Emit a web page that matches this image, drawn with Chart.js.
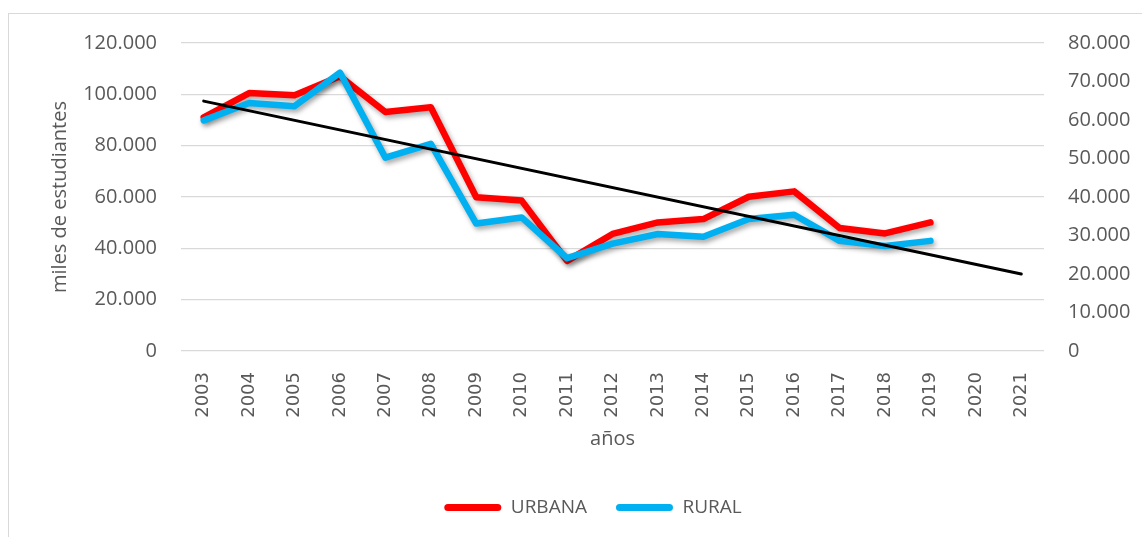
<!DOCTYPE html>
<html lang="es">
<head>
<meta charset="utf-8">
<title>Estudiantes urbana / rural</title>
<script src="https://cdn.jsdelivr.net/npm/chart.js@4/dist/chart.umd.min.js"></script>
<style>
    html, body { margin: 0; padding: 0; background: #ffffff; overflow: hidden; }
    .marco {
        position: absolute; left: 8px; top: 13px;
        width: 1200px; height: 600px;
        border: 1px solid #d9d9d9;
    }
    .zona { position: absolute; left: 0; top: 0; width: 1142px; height: 537px; }
</style>
</head>
<body>
<div class="marco"></div>
<div class="zona"><canvas id="graficoEstudiantes"></canvas></div>
<script>
// ==========================================
//  DATOS
// ==========================================
const anios = ['2003', '2004', '2005', '2006', '2007', '2008', '2009', '2010', '2011', '2012',
               '2013', '2014', '2015', '2016', '2017', '2018', '2019', '2020', '2021'];

// eje izquierdo
const urbana = [91000, 100500, 99600, 107000, 93100, 95000, 59900, 58600, 35100, 45600,
                50100, 51400, 60100, 62200, 47900, 45800, 50100, null, null];

// eje derecho
const rural = [59900, 64400, 63600, 72300, 50200, 53800, 33100, 34700, 24100, 27900,
               30400, 29700, 34300, 35400, 28600, 27300, 28600, null, null];

// tendencia (eje derecho), solo extremos
const tendencia = [64900, null, null, null, null, null, null, null, null, null,
                   null, null, null, null, null, null, null, null, 20000];

const ticksIzq = { min: 0, max: 120000, paso: 20000 };
const ticksDer = { min: 0, max: 80000, paso: 10000 };

const grisTexto = '#595959';
const fuente = "'Open Sans', 'Noto Sans', sans-serif";

function formatoMiles(v) {
    return String(v).replace(/\B(?=(\d{3})+(?!\d))/g, '.');
}

// sombra estilo Excel bajo las dos curvas
const pluginSombra = {
    id: 'sombra',
    beforeDatasetDraw(chart, args) {
        const ds = chart.data.datasets[args.index];
        if (!ds.sombra) return;
        const ctx = chart.ctx;
        ctx.save();
        ctx.shadowColor = 'rgba(0, 0, 0, 0.35)';
        ctx.shadowBlur = 5;
        ctx.shadowOffsetX = 2;
        ctx.shadowOffsetY = 3;
    },
    afterDatasetDraw(chart, args) {
        const ds = chart.data.datasets[args.index];
        if (ds.sombra) chart.ctx.restore();
    }
};

const ctx = document.getElementById('graficoEstudiantes').getContext('2d');

new Chart(ctx, {
    type: 'line',
    data: {
        labels: anios,
        datasets: [
            {
                label: 'URBANA',
                data: urbana,
                yAxisID: 'y',
                borderColor: '#ff0000',
                backgroundColor: '#ff0000',
                borderWidth: 6.5,
                borderJoinStyle: 'round',
                borderCapStyle: 'round',
                pointRadius: 0,
                tension: 0,
                order: 2,
                sombra: true
            },
            {
                label: 'RURAL',
                data: rural,
                yAxisID: 'y1',
                borderColor: '#00b0f0',
                backgroundColor: '#00b0f0',
                borderWidth: 6.5,
                borderJoinStyle: 'round',
                borderCapStyle: 'round',
                pointRadius: 0,
                tension: 0,
                order: 1,
                sombra: true
            },
            {
                label: 'tendencia',
                data: tendencia,
                yAxisID: 'y1',
                borderColor: '#000000',
                borderWidth: 3,
                borderCapStyle: 'round',
                pointRadius: 0,
                spanGaps: true,
                order: 0
            }
        ]
    },
    options: {
        responsive: true,
        maintainAspectRatio: false,
        animation: false,
        layout: { padding: { left: 44, right: 0, top: 43, bottom: 10 } },
        plugins: {
            tooltip: { enabled: false },
            legend: {
                position: 'bottom',
                labels: {
                    color: grisTexto,
                    font: { family: fuente, size: 19 },
                    boxWidth: 57,
                    boxHeight: 7,
                    useBorderRadius: true,
                    borderRadius: 3.5,
                    padding: 29,
                    generateLabels: chart => Chart.defaults.plugins.legend.labels.generateLabels(chart)
                        .filter(item => item.text !== 'tendencia')
                        .map(item => ({ ...item, lineWidth: 0 })),
                    sort: (a, b) => a.datasetIndex - b.datasetIndex
                }
            }
        },
        scales: {
            x: {
                offset: true,
                grid: { display: false },
                border: { display: false },
                ticks: {
                    color: grisTexto,
                    font: { family: "'DejaVu Sans', sans-serif", size: 18 },
                    minRotation: 90,
                    maxRotation: 90,
                    autoSkip: false,
                    padding: 13
                },
                title: {
                    display: true,
                    text: 'años',
                    color: grisTexto,
                    font: { family: fuente, size: 20 },
                    padding: { top: 0, bottom: 18 }
                },
                afterFit: escala => { escala.height = 118; }
            },
            y: {
                position: 'left',
                min: ticksIzq.min,
                max: ticksIzq.max,
                grid: { color: '#d9d9d9', lineWidth: 1.3, drawTicks: false },
                border: { display: false },
                ticks: {
                    stepSize: ticksIzq.paso,
                    color: grisTexto,
                    font: { family: fuente, size: 20 },
                    padding: 24,
                    callback: v => formatoMiles(v)
                },
                title: {
                    display: true,
                    text: 'miles de estudiantes',
                    color: grisTexto,
                    font: { family: fuente, size: 20 },
                    padding: { top: 4, bottom: 0 }
                },
                afterFit: escala => { escala.width = 137; }
            },
            y1: {
                position: 'right',
                min: ticksDer.min,
                max: ticksDer.max,
                grid: { display: false, drawTicks: false },
                border: { display: false },
                ticks: {
                    stepSize: ticksDer.paso,
                    color: grisTexto,
                    font: { family: fuente, size: 20 },
                    padding: 24,
                    callback: v => formatoMiles(v)
                },
                afterFit: escala => { escala.width = 98; }
            }
        }
    },
    plugins: [pluginSombra]
});
</script>
</body>
</html>
